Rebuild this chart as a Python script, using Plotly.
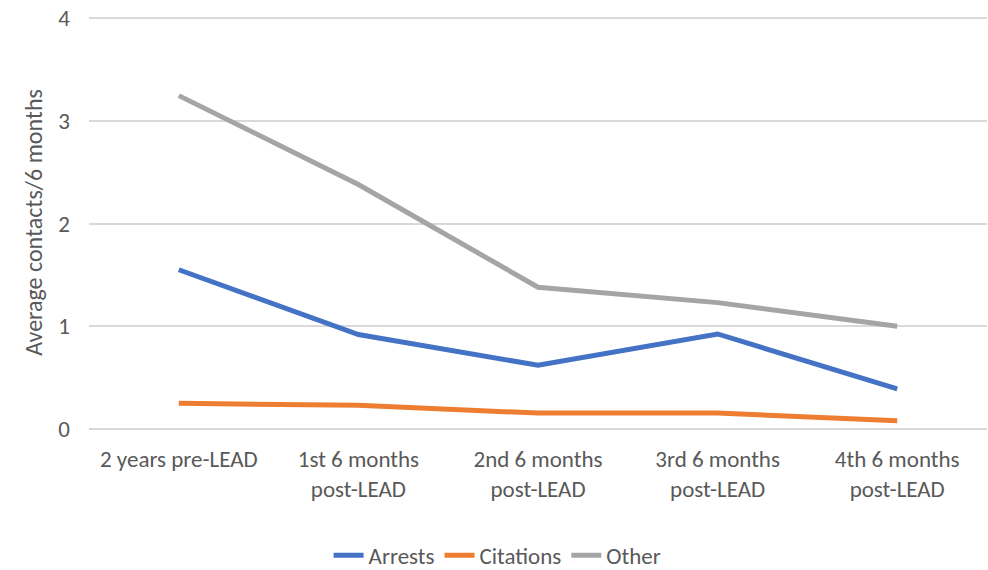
import plotly.graph_objects as go

categories = ["2 years pre-LEAD", "1st 6 months<br>post-LEAD", "2nd 6 months<br>post-LEAD",
              "3rd 6 months<br>post-LEAD", "4th 6 months<br>post-LEAD"]
arrests = [1.55, 0.92, 0.62, 0.925, 0.39]
citations = [0.25, 0.23, 0.155, 0.155, 0.08]
other = [3.245, 2.38, 1.38, 1.23, 1.0]
y_ticks = [0, 1, 2, 3, 4]

FONT = "Carlito, Calibri, sans-serif"
TXT = "#595959"
FS = 23

fig = go.Figure()
for name, vals, col in [("Arrests", arrests, "#4472C4"),
                        ("Citations", citations, "#ED7D31"),
                        ("Other", other, "#A5A5A5")]:
    fig.add_trace(go.Scatter(x=categories, y=vals, name=name, mode="lines",
                             line=dict(color=col, width=5)))

fig.update_layout(
    width=988, height=570,
    margin=dict(l=89, r=1, t=16, b=141),
    paper_bgcolor="white", plot_bgcolor="white",
    font=dict(family=FONT, size=FS, color=TXT),
    showlegend=True,
    legend=dict(orientation="h", x=0.455, xanchor="center", yref="container",
                y=0.026, yanchor="middle",
                font=dict(size=FS, color=TXT), itemwidth=30, tracegroupgap=0),
    xaxis=dict(type="category", range=[-0.5, 4.5], showgrid=False, showline=False, ticks="",
               tickfont=dict(size=FS, color=TXT), ticklabelstandoff=14, automargin=False),
    yaxis=dict(range=[0, 4.02], tickvals=y_ticks, showgrid=True, gridcolor="#D9D9D9",
               gridwidth=1.5, zeroline=True, zerolinecolor="#D9D9D9", zerolinewidth=1.5,
               ticks="", tickfont=dict(size=FS, color=TXT), ticklabelstandoff=18,
               automargin=False,
               title=dict(text="Average contacts/6 months", font=dict(size=24, color=TXT),
                          standoff=8)),
)

fig.write_html("out.html", config={"displayModeBar": False},
               post_script="document.body.style.margin='0';document.body.style.overflow='hidden';")
